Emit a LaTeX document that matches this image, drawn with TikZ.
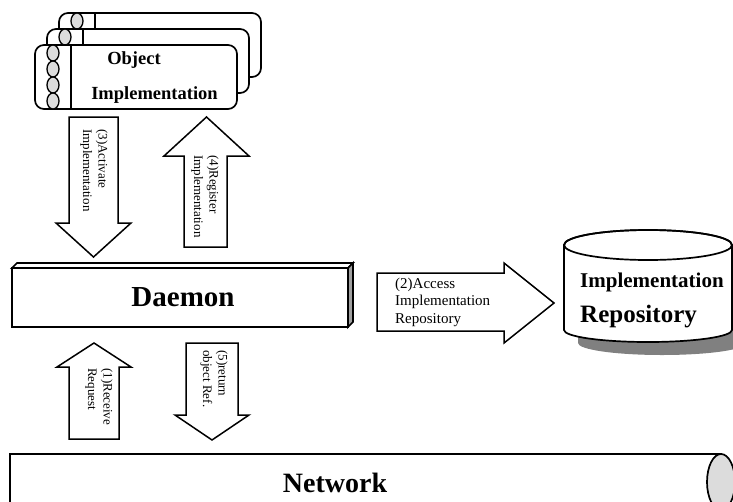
\documentclass[tikz,border=0pt]{standalone}
\usepackage{fontspec}
\setmainfont{Liberation Serif}
\definecolor{ellgray}{HTML}{DCDCDC}
\definecolor{facegray}{HTML}{A0A0A0}
\definecolor{shadowgray}{HTML}{808080}
\begin{document}
\begin{tikzpicture}[x=1pt,y=-1pt,line join=miter,
  ln/.style={line width=1.7pt},
  blockarrow/.style={draw,line width=1.5pt,fill=white},
  vlbl/.style={font=\fontsize{13}{15.5}\selectfont,align=left,inner sep=0pt,rotate=-90,anchor=west},
  bigbold/.style={font=\bfseries\fontsize{#1}{#1}\selectfont,inner sep=0pt}]
\useasboundingbox (0,0) rectangle (733,501);
\clip (0,0) rectangle (733,501);
% object implementation stack
\foreach \dx/\dy in {24/-32,12/-16,0/0}{
  \begin{scope}[shift={(\dx,\dy)}]
    \draw[ln,fill=white,rounded corners=9pt] (35,45) rectangle (237,109);
    \foreach \k in {0,1,2,3}
      \draw[line width=1.3pt,fill=ellgray] (53,53+16*\k) ellipse (6pt and 8pt);
    \draw[ln] (71,45) -- (71,109);
  \end{scope}
}
\node[bigbold=18.5] (objA) at (134,60) {Object};
\node[bigbold=18.5] (objB) at (154.5,95) {Implementation};
% arrow 3 (down)
\draw[blockarrow] (69,117) -- (118,117) -- (118,223) -- (131,223) -- (93.5,257) -- (56,223) -- (69,223) -- cycle;
\node[vlbl] (lbl3) at (94,129) {(3)Activate\\Implementation};
% arrow 4 (up)
\draw[blockarrow] (184,247) -- (184,156) -- (164,156) -- (206.5,117) -- (249,156) -- (227,156) -- (227,247) -- cycle;
\node[vlbl] (lbl4) at (205,155) {(4)Register\\Implementation};
% daemon box
\draw[ln,fill=white] (12,268) -- (17,263) -- (353,263) -- (348,268) -- cycle;
\draw[ln,fill=facegray] (348,268) -- (353,263) -- (353,322) -- (348,327) -- cycle;
\draw[ln,fill=white] (12,268) rectangle (348,327);
\node[bigbold=29] (daemon) at (183,297) {Daemon};
% arrow 2 (right)
\draw[blockarrow] (377,273) -- (504,273) -- (504,263) -- (554,303) -- (504,343) -- (504,331) -- (377,331) -- cycle;
\node[font=\fontsize{15}{17.5}\selectfont,align=left,anchor=west,inner sep=0pt] (lbl2) at (395,302) {(2)Access\\Implementation\\Repository};
% repository cylinder
\fill[shadowgray] (578,258) -- (578,343) arc[start angle=180,end angle=360,x radius=84pt,y radius=12pt] -- (746,258) -- cycle;
\draw[ln,fill=white] (564,245) -- (564,330) arc[start angle=180,end angle=360,x radius=84pt,y radius=12pt] -- (732,245) arc[start angle=0,end angle=180,x radius=84pt,y radius=15pt] -- cycle;
\draw[ln] (648,245) ellipse (84pt and 15pt);
\node[bigbold=21,anchor=west] (repA) at (580,282) {Implementation};
\node[bigbold=25,anchor=west] (repB) at (580,317) {Repository};
% arrow 1 (up)
\draw[blockarrow] (69,439) -- (69,367) -- (57,367) -- (94,343) -- (131,367) -- (119,367) -- (119,439) -- cycle;
\node[vlbl] (lbl1) at (99,368) {(1)Receive\\Request};
% arrow 5 (down)
\draw[blockarrow] (186,343) -- (238,343) -- (238,415) -- (249,415) -- (212,440) -- (175,415) -- (186,415) -- cycle;
\node[vlbl] (lbl5) at (214,350) {(5)return\\object Ref.};
% network
\draw[ln,fill=white] (10,520) -- (10,454) -- (721,454) -- (721,520);
\draw[ln,fill=ellgray] (721,482) ellipse (14pt and 28pt);
\node[bigbold=28] (net) at (335,483) {Network};
\end{tikzpicture}
\end{document}
